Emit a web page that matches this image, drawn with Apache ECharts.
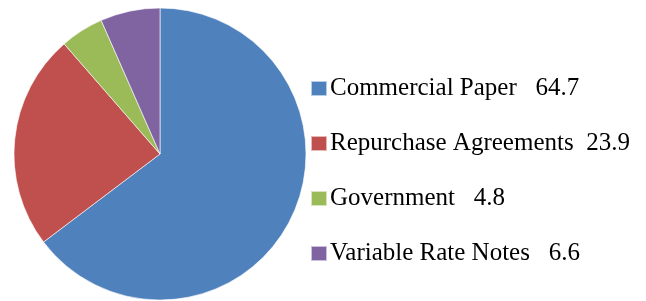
<!DOCTYPE html>
<html>
<head>
<meta charset="utf-8">
<script src="https://cdn.jsdelivr.net/npm/echarts@6/dist/echarts.min.js"></script>
<style>
  html, body { margin: 0; padding: 0; background: #fff; }
  #chart { width: 646px; height: 301px; }
</style>
</head>
<body>
<div id="chart"></div>
<script>
// 数据
const categories = ['Commercial Paper', 'Repurchase Agreements', 'Government', 'Variable Rate Notes'];
const values = [64.7, 23.9, 4.8, 6.6];
const colors = ['#4F81BD', '#C0504D', '#9BBB59', '#8064A2'];

const chart = echarts.init(document.getElementById('chart'));

const gaps = { 'Commercial Paper': '   ', 'Repurchase Agreements': '  ', 'Government': '   ', 'Variable Rate Notes': '   ' };

chart.setOption({
    animation: false,
    backgroundColor: '#fff',
    color: colors,
    legend: {
        orient: 'vertical',
        left: 310,
        top: 76,
        padding: 0,
        itemWidth: 16,
        itemHeight: 15,
        itemGap: 30,
        icon: 'rect',
        selectedMode: false,
        textStyle: {
            fontFamily: 'Liberation Serif',
            fontSize: 25,
            lineHeight: 25,
            color: '#000',
            padding: [0, 0, 0, -2]
        },
        formatter: (name) => name + gaps[name] + values[categories.indexOf(name)]
    },
    series: [{
        type: 'pie',
        center: [160, 154],
        radius: 146,
        startAngle: 90,
        clockwise: true,
        label: { show: false },
        labelLine: { show: false },
        itemStyle: { borderColor: 'rgba(255,255,255,0.6)', borderWidth: 1 },
        data: categories.map((c, i) => ({ name: c, value: values[i] }))
    }]
});
</script>
</body>
</html>
